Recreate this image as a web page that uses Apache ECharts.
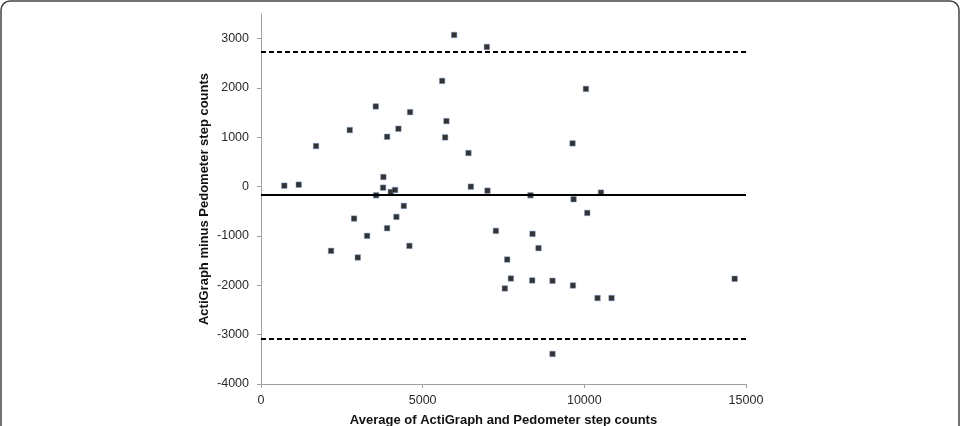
<!DOCTYPE html>
<html>
<head>
<meta charset="utf-8">
<script src="https://cdn.jsdelivr.net/npm/echarts@6/dist/echarts.min.js"></script>
<style>
  html, body { margin: 0; padding: 0; background: #fff; }
  #chart { width: 963px; height: 426px; }
</style>
</head>
<body>
<div id="chart"></div>
<script>
// Bland-Altman data: mean of the two counts vs difference
var avgSteps = [721, 1167, 1702, 2745, 3550, 3900, 4250, 4611, 3785, 3776, 3560, 4014,
  4147, 4417, 2878, 4188, 3281, 3900, 2167, 2993, 4590, 5973, 6985, 5602, 5735, 5695,
  6417, 6490, 7004, 8335, 9635, 10049, 9667, 10090, 7264, 8397, 8583, 7614, 7728, 7542,
  8388, 9016, 9647, 9016, 10514, 10409, 10842, 14649];
var diffSteps = [20, 40, 823, 1147, 1626, 1012, 1174, 1511, 196, -20, -175, -107,
  -67, -390, -647, -613, -997, -842, -1301, -1436, -1200, 3075, 2832, 2144, 1329, 999,
  682, 0, -81, -175, 878, 1982, -255, -532, -896, -957, -1246, -1477, -1861, -2063,
  -1901, -1908, -2003, -3391, -121, -2258, -2258, -1867];

var meanDiff = -170;   // bias
var upperLoA = 2740;   // mean + 1.96 SD
var lowerLoA = -3080;  // mean - 1.96 SD

var points = [];
for (let i = 0; i < avgSteps.length; i++) {
  points.push([avgSteps[i], diffSteps[i]]);
}

var myChart = echarts.init(document.getElementById('chart'));

// plain numbers, no thousands separator
var plainNum = function (v) { return String(v); };

var labelStyle = { fontFamily: 'Liberation Sans, Arial, sans-serif', fontSize: 12.5, color: '#2a2a2a', formatter: plainNum };
var nameStyle = { fontFamily: 'Liberation Sans, Arial, sans-serif', fontSize: 13, fontWeight: 'bold', color: '#111' };

var option = {
  animation: false,
  backgroundColor: '#fff',
  // rounded frame around the figure
  graphic: [{
    type: 'rect',
    silent: true,
    shape: { x: 1, y: 1, width: 958, height: 460, r: 9 },
    style: { fill: 'none', stroke: '#444', lineWidth: 1.5 }
  }],
  grid: { left: 261, right: 217, top: 14, bottom: 42, containLabel: false, outerBoundsMode: 'none' },
  xAxis: {
    type: 'value',
    min: 0,
    max: 15000,
    interval: 5000,
    name: 'Average of ActiGraph and Pedometer step counts',
    nameLocation: 'middle',
    nameGap: 30,
    nameMoveOverlap: false,
    nameTextStyle: nameStyle,
    axisLine: { show: true, onZero: false, lineStyle: { color: '#a0a0a0', width: 1 } },
    axisTick: { show: true, length: 4, lineStyle: { color: '#a0a0a0' } },
    axisLabel: Object.assign({ margin: 10 }, labelStyle),
    splitLine: { show: false }
  },
  yAxis: {
    type: 'value',
    min: -4000,
    max: 3500,
    interval: 1000,
    name: 'ActiGraph minus Pedometer step counts',
    nameLocation: 'middle',
    nameGap: 50,
    nameMoveOverlap: false,
    nameTextStyle: nameStyle,
    axisLine: { show: true, onZero: false, lineStyle: { color: '#a0a0a0', width: 1 } },
    axisTick: { show: true, length: 4, lineStyle: { color: '#a0a0a0' } },
    axisLabel: Object.assign({ margin: 12, showMaxLabel: false }, labelStyle),
    splitLine: { show: false }
  },
  series: [{
    type: 'scatter',
    data: points,
    symbol: 'rect',
    symbolSize: 5.5,
    itemStyle: { color: '#000', borderColor: 'rgba(120,150,195,0.6)', borderWidth: 1 },
    markLine: {
      silent: true,
      symbol: 'none',
      label: { show: false },
      data: [
        { yAxis: meanDiff, lineStyle: { type: 'solid', color: '#000', width: 2 } },
        { yAxis: upperLoA, lineStyle: { type: [5, 3], color: '#000', width: 2 } },
        { yAxis: lowerLoA, lineStyle: { type: [5, 3], color: '#000', width: 2 } }
      ]
    }
  }]
};
myChart.setOption(option);
</script>
</body>
</html>
